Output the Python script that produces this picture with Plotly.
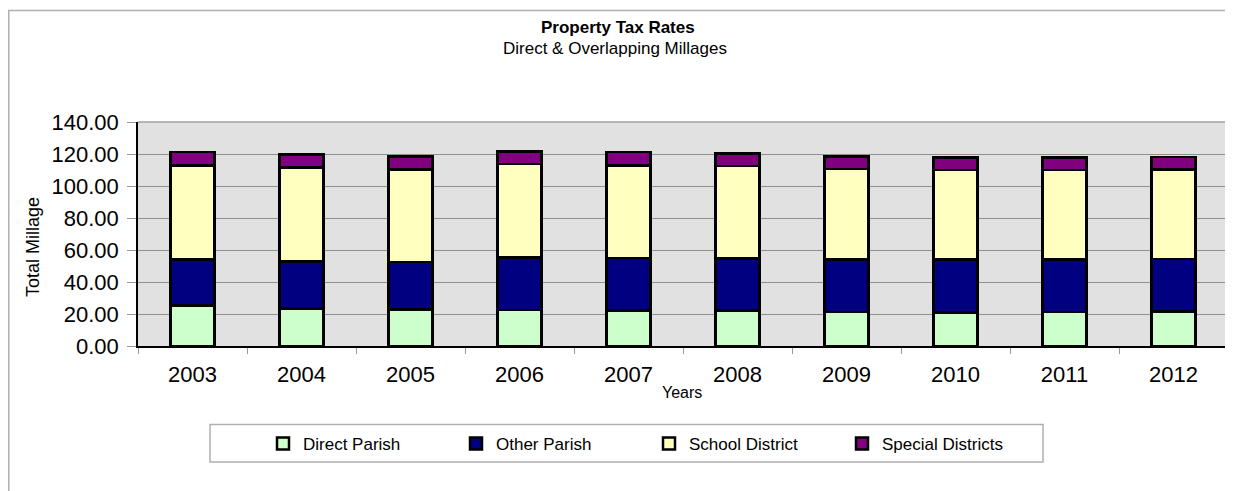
import plotly.graph_objects as go

years = ["2003", "2004", "2005", "2006", "2007", "2008", "2009", "2010", "2011", "2012"]
direct_parish = [25.4, 23.3, 22.9, 22.5, 22.3, 22.1, 21.25, 21.0, 21.25, 21.5]
other_parish = [28.8, 29.6, 29.6, 32.9, 32.7, 32.5, 32.75, 33.0, 32.75, 32.9]
school_district = [58.7, 58.8, 57.9, 58.35, 57.9, 57.9, 56.6, 56.0, 56.0, 56.0]
special_districts = [8.35, 7.9, 7.9, 7.75, 8.35, 7.9, 7.7, 7.9, 7.9, 7.7]

series = [
    ("Direct Parish", direct_parish, "#CCFFCC"),
    ("Other Parish", other_parish, "#000080"),
    ("School District", school_district, "#FFFFC0"),
    ("Special Districts", special_districts, "#800080"),
]

fig = go.Figure()
for name, vals, color in series:
    fig.add_trace(go.Bar(
        x=years, y=vals, name=name,
        marker=dict(color=color, line=dict(color="black", width=2.5)),
    ))

font = "Liberation Sans, Arial, sans-serif"

# page has an 8px body margin, so the figure is 8px smaller than the window
W, H = 1225, 483
ML, MR, MT, MB = 130, 5, 114, 145
plot_w = W - ML - MR
plot_h = H - MT - MB


def px(x):  # window x -> paper x
    return (x - 8 - ML) / plot_w


def py(y):  # window y -> paper y
    return (H - MB - (y - 8)) / plot_h


fig.update_layout(
    width=W, height=H,
    barmode="stack", bargap=0.6,
    paper_bgcolor="white", plot_bgcolor="#E1E1E1",
    margin=dict(l=ML, r=MR, t=MT, b=MB),
    font=dict(family=font, color="black"),
    showlegend=True,
    legend=dict(
        orientation="h", x=px(263), xanchor="left", y=py(444), yanchor="middle",
        font=dict(size=17), entrywidth=148, entrywidthmode="pixels",
        bgcolor="rgba(0,0,0,0)", borderwidth=0, traceorder="normal",
    ),
    xaxis=dict(
        showline=True, linecolor="black", linewidth=1.5,
        ticks="outside", tickson="boundaries", ticklen=6, tickcolor="#999",
        tickfont=dict(size=22), showgrid=False, ticklabelstandoff=8,
    ),
    yaxis=dict(
        range=[0, 140], dtick=20, tickformat=".2f",
        showline=True, linecolor="black", linewidth=1.5,
        ticks="outside", ticklen=9, tickcolor="#999",
        tickfont=dict(size=22), gridcolor="#8F8F8F", gridwidth=1,
        zeroline=False, ticklabelstandoff=4,
    ),
    annotations=[
        dict(text="<b>Property Tax Rates</b>", x=px(618), y=py(28), xref="paper", yref="paper",
             showarrow=False, font=dict(size=17), yanchor="middle"),
        dict(text="Direct & Overlapping Millages", x=px(615), y=py(48), xref="paper", yref="paper",
             showarrow=False, font=dict(size=17), yanchor="middle"),
        dict(text="Years", x=px(682), y=py(392), xref="paper", yref="paper",
             showarrow=False, font=dict(size=16), yanchor="middle"),
        dict(text="Total Millage", x=px(33), y=py(247), xref="paper", yref="paper",
             showarrow=False, font=dict(size=18), textangle=-90,
             xanchor="center", yanchor="middle"),
    ],
    shapes=[
        # outer chart border
        dict(type="rect", xref="paper", yref="paper",
             x0=px(8.8), x1=px(1300), y0=py(600), y1=py(10.5),
             line=dict(color="#B0B0B0", width=1.5), layer="below"),
        # top/right plot-area frame
        dict(type="line", xref="paper", yref="paper", x0=0, x1=1, y0=1, y1=1,
             line=dict(color="#A0A0A0", width=1.5)),
        dict(type="line", xref="paper", yref="paper", x0=1, x1=1, y0=0, y1=1,
             line=dict(color="#A0A0A0", width=1.5)),
        # legend box
        dict(type="rect", xref="paper", yref="paper",
             x0=px(210), x1=px(1043), y0=py(462), y1=py(424.5),
             line=dict(color="#B0B0B0", width=1.5)),
    ],
)

fig.write_html("out.html")
